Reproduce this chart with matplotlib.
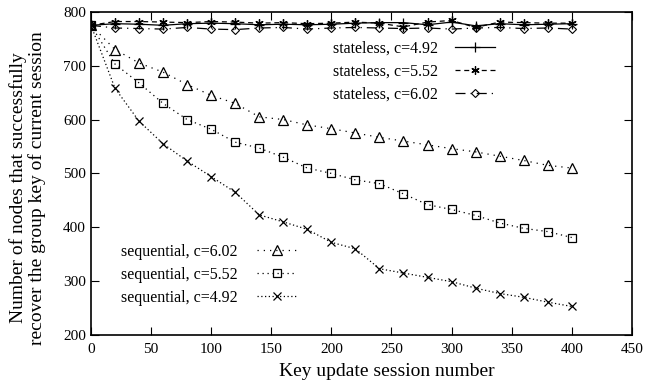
import numpy as np
import matplotlib.pyplot as plt
from matplotlib.legend import Legend

plt.rcParams['font.family'] = ['Liberation Serif', 'DejaVu Serif']

# Data
sessions = list(range(0, 401, 20))

seq_602 = [775, 730, 705, 688, 665, 645, 630, 605, 600, 590, 583,
           575, 567, 560, 553, 546, 540, 532, 524, 515, 510]
seq_552 = [775, 703, 668, 630, 600, 582, 558, 547, 530, 510, 500,
           488, 481, 462, 442, 433, 422, 408, 398, 392, 381]
seq_492 = [775, 658, 597, 555, 523, 494, 465, 423, 410, 396, 372,
           360, 323, 315, 307, 299, 287, 277, 270, 261, 253]

sl_492 = [775, 778, 777, 775, 778, 779, 778, 776, 777, 776, 777,
          779, 780, 780, 776, 781, 774, 778, 776, 777, 778]
sl_552 = [775, 782, 782, 781, 780, 782, 781, 779, 780, 778, 779,
          781, 779, 772, 781, 784, 771, 781, 780, 779, 779]
sl_602 = [775, 770, 769, 768, 771, 768, 767, 770, 771, 768, 770,
          771, 770, 769, 770, 768, 770, 771, 769, 770, 768]

# Plot
fig = plt.figure(figsize=(6.47, 3.87), dpi=100)
ax = fig.add_axes([0.1406, 0.1344, 0.836, 0.835])

h1, = ax.plot(sessions, sl_492, color='k', lw=0.9, marker='+', ms=7, mew=0.9)
h2, = ax.plot(sessions, sl_552, color='k', lw=0.9, ls=(0, (4, 3)), marker=(6, 2, 0), ms=6, mew=0.9)
h3, = ax.plot(sessions, sl_602, color='k', lw=0.9, ls=(0, (8, 4, 1, 4)), marker='D', ms=4.5,
              mfc='none', mew=0.8)

h4, = ax.plot(sessions, seq_602, color='k', lw=0.9, ls=(0, (1, 4)), marker='^', ms=7.5,
              mfc='none', mew=0.9)
h5, = ax.plot(sessions, seq_552, color='k', lw=0.9, ls=(0, (1, 3)), marker='s', ms=6,
              mfc='none', mew=0.9)
h6, = ax.plot(sessions, seq_492, color='k', lw=0.9, ls=(0, (1, 2)), marker='x', ms=5.5, mew=0.9)

ax.set_xlim(0, 450)
ax.set_ylim(200, 800)
ax.set_xticks(range(0, 451, 50))
ax.set_yticks(range(200, 801, 100))
ax.tick_params(direction='in', top=True, right=True, length=6, width=0.8, labelsize=11)
ax.tick_params(axis='x', pad=6)
for s in ax.spines.values():
    s.set_linewidth(1.2)

ax.set_xlabel('Key update session number', fontsize=14, va='center')
ax.xaxis.set_label_coords(0.547, -0.113)
ax.set_ylabel('Number of nodes that successfully\nrecover the group key of current session',
              fontsize=14, linespacing=1.05, va='center')
ax.yaxis.set_label_coords(-0.117, 0.455)

leg1 = Legend(ax, [h1, h2, h3],
              ['stateless, c=4.92', 'stateless, c=5.52', 'stateless, c=6.02'],
              loc='upper right', bbox_to_anchor=(0.747, 0.91), frameon=False,
              markerfirst=False, fontsize=11.5, handlelength=2.5, handletextpad=1.1,
              labelspacing=0.44, borderpad=0, borderaxespad=0)
ax.add_artist(leg1)
ax.legend([h4, h5, h6],
          ['sequential, c=6.02', 'sequential, c=5.52', 'sequential, c=4.92'],
          loc='lower right', bbox_to_anchor=(0.381, 0.09), frameon=False,
          markerfirst=False, fontsize=11.5, handlelength=2.5, handletextpad=1.2,
          labelspacing=0.44, borderpad=0, borderaxespad=0)

plt.savefig('out.png', dpi=100)
